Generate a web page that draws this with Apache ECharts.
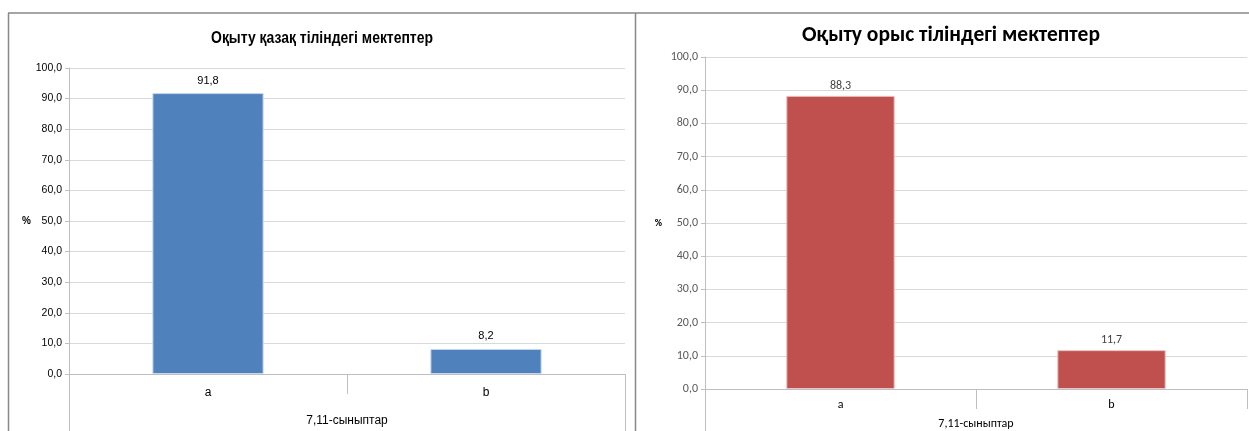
<!DOCTYPE html>
<html>
<head>
<meta charset="utf-8">
<script src="https://cdn.jsdelivr.net/npm/echarts@6/dist/echarts.min.js"></script>
<style>
html,body{margin:0;padding:0;background:#fff;}
#c{width:1249px;height:431px;}
</style>
</head>
<body>
<div id="c"></div>
<script>
// ---- data ----
const categories = ['a', 'b'];
const kazakhValues = [91.8, 8.2];
const russianValues = [88.3, 11.7];
const titleLeft = 'Оқыту қазақ тіліндегі мектептер';
const titleRight = 'Оқыту орыс тіліндегі мектептер';
const xAxisName = '7,11-сыныптар';
const yAxisName = '%';
const yMin = 0, yMax = 100, yStep = 10;

// ---- layout ----
const W = 1249, H = 431;
const g0 = {left: 69, right: W - 625, top: 68, bottom: H - 374};
const g1 = {left: 705, right: W - 1247, top: 57, bottom: H - 389};
const arial = "'Liberation Sans',Arial,sans-serif";
const calibri = "Carlito,Lato,'Open Sans',sans-serif";
const fmt = v => v.toFixed(1).replace('.', ',');

const chart = echarts.init(document.getElementById('c'), null, {renderer: 'canvas'});

function yAxisCfg(gi, font, size, color, nameGap) {
  return {
    gridIndex: gi, type: 'value', min: yMin, max: yMax, interval: yStep,
    name: yAxisName, nameLocation: 'middle', nameRotate: 0, nameGap: nameGap,
    nameTextStyle: {fontFamily: font, fontSize: 10, fontWeight: 'bold', color: '#000'},
    axisLine: {show: true, lineStyle: {color: '#bfbfbf', width: 1}},
    axisTick: {show: true, length: 4, lineStyle: {color: '#bfbfbf'}},
    axisLabel: {formatter: fmt, fontFamily: font, fontSize: size, color: color, margin: 7},
    splitLine: {show: true, lineStyle: {color: '#d9d9d9', width: 1}}
  };
}
function xAxisCfg(gi, font, color, labelMargin, nameGap, labelSize) {
  return {
    gridIndex: gi, type: 'category', data: categories,
    name: xAxisName, nameLocation: 'middle', nameGap: nameGap,
    nameTextStyle: {fontFamily: font, fontSize: labelSize, color: '#000'},
    axisLine: {show: true, lineStyle: {color: '#bfbfbf', width: 1}},
    axisTick: {show: true, length: 20, lineStyle: {color: '#bfbfbf'}},
    axisLabel: {fontFamily: font, fontSize: labelSize, color: color, margin: labelMargin},
    splitLine: {show: false}
  };
}

const option = {
  animation: false,
  backgroundColor: '#fff',
  title: [
    {text: titleRight, left: 946, top: 20, textAlign: 'center',
     textStyle: {fontFamily: calibri, fontSize: 21.5, fontWeight: 'bold', color: '#000'}}
  ],
  grid: [
    Object.assign({containLabel: false, outerBoundsMode: 'none'}, g0),
    Object.assign({containLabel: false, outerBoundsMode: 'none'}, g1)
  ],
  xAxis: [
    xAxisCfg(0, arial, '#000', 13, 41, 12),
    xAxisCfg(1, calibri, '#000', 10, 29, 12)
  ],
  yAxis: [
    yAxisCfg(0, arial, 10.5, '#000', 37),
    yAxisCfg(1, calibri, 12, '#595959', 43)
  ],
  series: [
    {type: 'bar', xAxisIndex: 0, yAxisIndex: 0, data: kazakhValues, barCategoryGap: '60%',
     itemStyle: {color: '#4f81bd', borderColor: '#c6d6ec', borderWidth: 1},
     label: {show: true, position: 'top', distance: 7, formatter: p => fmt(p.value),
             fontFamily: arial, fontSize: 11, color: '#000'}},
    {type: 'bar', xAxisIndex: 1, yAxisIndex: 1, data: russianValues, barCategoryGap: '60%',
     itemStyle: {color: '#c0504d', borderColor: '#e8c4c3', borderWidth: 1},
     label: {show: true, position: 'top', distance: 4, formatter: p => fmt(p.value),
             fontFamily: calibri, fontSize: 12, color: '#404040'}}
  ],
  graphic: [
    // left title (condensed face)
    {type: 'text', x: 322, y: 38, scaleX: 0.82, silent: true,
     style: {text: titleLeft, align: 'center', verticalAlign: 'middle',
             font: "bold 17px 'Liberation Sans', Arial, sans-serif", fill: '#000'}},
    // panel borders
    {type: 'line', shape: {x1: 8, y1: 13, x2: W, y2: 13}, style: {stroke: '#888', lineWidth: 1.5}, silent: true},
    {type: 'line', shape: {x1: 8.5, y1: 13, x2: 8.5, y2: H}, style: {stroke: '#888', lineWidth: 1.5}, silent: true},
    {type: 'line', shape: {x1: 635.5, y1: 13, x2: 635.5, y2: H}, style: {stroke: '#888', lineWidth: 1.5}, silent: true},
    // category table outer lines
    {type: 'line', shape: {x1: g0.left + 0.5, y1: H - g0.bottom, x2: g0.left + 0.5, y2: H}, style: {stroke: '#bfbfbf', lineWidth: 1}, silent: true},
    {type: 'line', shape: {x1: W - g0.right + 0.5, y1: H - g0.bottom, x2: W - g0.right + 0.5, y2: H}, style: {stroke: '#bfbfbf', lineWidth: 1}, silent: true},
    {type: 'line', shape: {x1: g1.left + 0.5, y1: H - g1.bottom, x2: g1.left + 0.5, y2: H}, style: {stroke: '#bfbfbf', lineWidth: 1}, silent: true}
  ]
};
chart.setOption(option);
</script>
</body>
</html>
